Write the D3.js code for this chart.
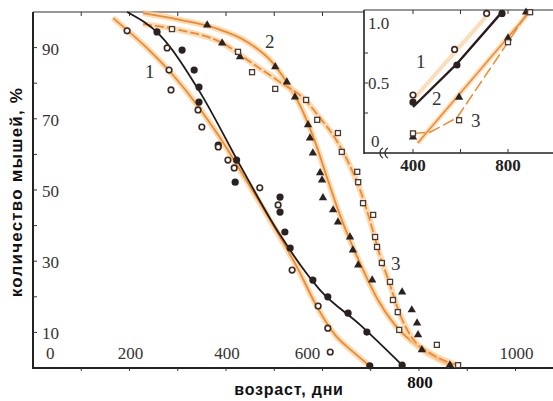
<!DOCTYPE html>
<meta charset="utf-8">
<style>
body { margin: 0; background: #fff; }
svg { display: block; }
.tick-lbl { font-family: "Liberation Serif", "DejaVu Serif", "Times New Roman", serif; font-size: 17px; fill: #333; }
.ax-title { font-family: "Liberation Sans", "DejaVu Sans", sans-serif; font-weight: bold; font-size: 16px; fill: #111; }
.num { font-family: "Liberation Serif", "DejaVu Serif", serif; font-size: 19px; fill: #333; }
</style>
<body>
<script src="https://cdn.jsdelivr.net/npm/d3@7"></script>
<script>

// main plot, survival curves (days, % of mice alive)
var curve1Days = [166, 236, 290, 340, 388, 439, 491, 547, 589, 626, 661, 698];
var curve1Pct  = [98.3, 89.9, 82.3, 73.9, 64.6, 53.4, 41.6, 28.4, 17.1, 9.3, 4.8, 0.6];
var blackDays = [195, 263, 346, 429, 512, 595, 678, 765];
var blackPct  = [100, 93.5, 77.5, 57.0, 37.4, 21.9, 12.1, 0.8];
var curve2Days = [228, 305, 377, 444, 495, 533, 560, 587, 611, 636, 661, 686, 715, 750, 802, 864];
var curve2Pct  = [99.7, 97.8, 95.5, 91.6, 86.0, 78.7, 71.9, 62.6, 52.8, 43.0, 34.6, 27.0, 19.1, 12.1, 5.6, 0.8];
var curve3Days = [228, 305, 392, 450, 512, 564, 595, 626, 653, 678, 698, 719, 740, 761, 786, 823, 879];
var curve3Pct  = [96.6, 94.9, 91.3, 86.0, 80.3, 75.3, 70.2, 64.6, 57.9, 50.0, 41.6, 31.7, 23.3, 14.9, 8.4, 4.2, 0.8];

// points
var filledDays = [257, 309, 334, 344, 344, 384, 422, 419, 512, 512, 522, 533, 580, 611, 653, 692, 765, 698];
var filledPct  = [94.4, 89.3, 83.7, 78.9, 74.7, 62.6, 58.4, 52.2, 48, 43.8, 38.2, 33.7, 24.7, 20, 15.4, 10.1, 0.8, 0.6];
var openDays = [195, 278, 282, 286, 342, 350, 384, 404, 417, 470, 508, 537, 591, 611, 616];
var openPct  = [94.7, 89.9, 83.7, 78.1, 72.5, 67.7, 62.1, 58.4, 56.2, 50.6, 45.8, 27.5, 17.4, 11.2, 4.5];
var triDays = [361, 392, 429, 502, 526, 543, 570, 574, 580, 595, 599, 601, 622, 632, 657, 663, 674, 703, 765, 785, 796, 798, 806, 864];
var triPct  = [96.3, 91.3, 87.4, 84.6, 80.3, 76.1, 68.3, 64.6, 60.4, 54.8, 52.8, 47.8, 44.4, 41, 36.8, 33.1, 28.9, 24.7, 21.3, 16.3, 12.6, 9.3, 5.1, 0.8];
var sqDays = [288, 425, 454, 502, 566, 589, 632, 640, 672, 674, 684, 705, 709, 713, 723, 740, 746, 756, 759, 837, 881];
var sqPct  = [95.2, 88.8, 83.1, 78.4, 75.3, 69.7, 66, 60.7, 55.1, 52.2, 46.3, 43, 36.8, 34, 29.5, 24.2, 19.1, 15.7, 10.7, 6.5, 0.8];

var xTicks = [200, 400, 600, 800, 1000];
var yTicks = [90, 70, 50, 30, 10, 0];

// inset
var inFilledX = [400, 585, 775], inFilledY = [0.34, 0.65, 1.08];
var inOpenX = [400, 575, 710], inOpenY = [0.40, 0.78, 1.08];
var inTriX = [400, 594, 800, 876], inTriY = [0.05, 0.38, 0.875, 1.09];
var inSqX = [400, 594, 800, 893], inSqY = [0.08, 0.19, 0.84, 1.09];
var inLine1X = [400, 585, 770], inLine1Y = [0.30, 0.66, 1.08];
var inLine1oX = [400, 720], inLine1oY = [0.36, 1.08];
var inLine2X = [420, 890], inLine2Y = [0.0, 1.09];
var inLine3X = [400, 472, 585, 800, 880], inLine3Y = [0.08, 0.09, 0.21, 0.84, 1.08];
var inXTicks = [400, 800];
var inYTicks = [0, 0.5, 1.0];

var W = 553, H = 401;
var orange = "#ef8a2e", glow = "#f9cf9c", dark = "#2a2220";

var svg = d3.select("body").append("svg").attr("width", W).attr("height", H);

var x = d3.scaleLinear().domain([0, 1000]).range([33, 515.5]);
var y = d3.scaleLinear().domain([0, 100]).range([368, 12]);

function pts(xs, ys) { return xs.map(function(v, i) { return [v, ys[i]]; }); }

var line = d3.line()
    .x(function(d) { return x(d[0]); })
    .y(function(d) { return y(d[1]); })
    .curve(d3.curveMonotoneX);

// frame
svg.append("line").attr("x1", 33).attr("x2", 33).attr("y1", 12).attr("y2", 368)
    .attr("stroke", "#222").attr("stroke-width", 2);
svg.append("line").attr("x1", 32).attr("x2", W).attr("y1", 368).attr("y2", 368)
    .attr("stroke", "#222").attr("stroke-width", 2);
svg.append("line").attr("x1", 33).attr("x2", W).attr("y1", 12).attr("y2", 12)
    .attr("stroke", "#333").attr("stroke-width", 1.2);

// ticks
d3.range(10, 100, 10).forEach(function(v) {
  svg.append("line").attr("x1", 33).attr("x2", 37).attr("y1", y(v)).attr("y2", y(v))
      .attr("stroke", "#333");
});
d3.range(100, 1100, 100).forEach(function(v) {
  svg.append("line").attr("x1", x(v)).attr("x2", x(v)).attr("y1", 368).attr("y2", 371)
      .attr("stroke", "#333");
  svg.append("line").attr("x1", x(v)).attr("x2", x(v)).attr("y1", 12).attr("y2", 16)
      .attr("stroke", "#333");
});

// tick labels (drawn inside the plot as in the original)
svg.selectAll(".ylbl").data(yTicks).enter().append("text")
    .attr("class", "tick-lbl")
    .attr("x", function(d) { return d === 0 ? 46 : 42; })
    .attr("y", function(d) { return d === 0 ? 353 : y(d) + 1; })
    .attr("dy", "0.35em")
    .text(function(d) { return d; });

svg.selectAll(".xlbl").data(xTicks).enter().append("text")
    .attr("class", "tick-lbl")
    .attr("text-anchor", "middle")
    .attr("x", function(d) { return d === 600 ? x(d) - 15 : x(d) + 1; })
    .attr("y", function(d) { return d === 800 ? 382 : 353; })
    .attr("dy", "0.35em")
    .style("font-weight", function(d) { return d === 800 ? "bold" : null; })
    .style("fill", function(d) { return d === 800 ? "#111" : null; })
    .text(function(d) { return d; });

// axis titles
svg.append("text").attr("class", "ax-title")
    .attr("transform", "translate(22,192) rotate(-90)")
    .attr("text-anchor", "middle")
    .style("font-size", "17px")
    .style("letter-spacing", "1.2px")
    .text("количество  мышей,  %");
svg.append("text").attr("class", "ax-title")
    .attr("x", 289).attr("y", 395)
    .attr("text-anchor", "middle")
    .style("letter-spacing", "0.8px")
    .text("возраст,   дни");

// curves
function orangeCurve(data, dash) {
  svg.append("path").datum(data).attr("d", line)
      .attr("fill", "none").attr("stroke", glow).attr("stroke-width", 6).attr("opacity", 0.75);
  svg.append("path").datum(data).attr("d", line)
      .attr("fill", "none").attr("stroke", orange).attr("stroke-width", 1.8)
      .attr("stroke-dasharray", dash);
}
orangeCurve(pts(curve1Days, curve1Pct), null);
orangeCurve(pts(curve2Days, curve2Pct), null);
orangeCurve(pts(curve3Days, curve3Pct), "9,3");
svg.append("path").datum(pts(blackDays, blackPct)).attr("d", line)
    .attr("fill", "none").attr("stroke", "#1e1a1a").attr("stroke-width", 1.8);

// markers
var tri = d3.symbol().type(d3.symbolTriangle).size(30);
function drawPoints(g, xs, ys, sx, sy, kind) {
  var data = pts(xs, ys);
  if (kind === "filled") {
    g.selectAll(null).data(data).enter().append("circle")
        .attr("cx", function(d) { return sx(d[0]); }).attr("cy", function(d) { return sy(d[1]); })
        .attr("r", 3.6).attr("fill", dark);
  } else if (kind === "open") {
    g.selectAll(null).data(data).enter().append("circle")
        .attr("cx", function(d) { return sx(d[0]); }).attr("cy", function(d) { return sy(d[1]); })
        .attr("r", 2.8).attr("fill", "#fff").attr("stroke", "#3a2a22").attr("stroke-width", 1.6);
  } else if (kind === "tri") {
    g.selectAll(null).data(data).enter().append("path")
        .attr("d", tri)
        .attr("transform", function(d) { return "translate(" + sx(d[0]) + "," + sy(d[1]) + ")"; })
        .attr("fill", dark);
  } else {
    g.selectAll(null).data(data).enter().append("rect")
        .attr("x", function(d) { return sx(d[0]) - 2.5; }).attr("y", function(d) { return sy(d[1]) - 2.5; })
        .attr("width", 5).attr("height", 5)
        .attr("fill", "#fff").attr("stroke", "#4a3a30").attr("stroke-width", 1.3);
  }
}
drawPoints(svg, filledDays, filledPct, x, y, "filled");
drawPoints(svg, openDays, openPct, x, y, "open");
drawPoints(svg, triDays, triPct, x, y, "tri");
drawPoints(svg, sqDays, sqPct, x, y, "sq");

// curve numbers
svg.append("text").attr("class", "num").attr("x", 145).attr("y", 78).text("1");
svg.append("text").attr("class", "num").attr("x", 265).attr("y", 48).text("2");
svg.append("text").attr("class", "num").attr("x", 391).attr("y", 270).text("3");

// ---------- inset ----------
var ix = d3.scaleLinear().domain([400, 800]).range([413, 508]);
var iy = d3.scaleLinear().domain([0, 1]).range([143, 23]);
var inset = svg.append("g");
inset.append("rect").attr("x", 364).attr("y", 10).attr("width", W - 364).attr("height", 143)
    .attr("fill", "#fff");
inset.append("line").attr("x1", 364).attr("x2", 364).attr("y1", 10).attr("y2", 154)
    .attr("stroke", "#222").attr("stroke-width", 1.6);
inset.append("line").attr("x1", 364).attr("x2", W).attr("y1", 153).attr("y2", 153)
    .attr("stroke", "#222").attr("stroke-width", 1.6);
inset.append("line").attr("x1", 364).attr("x2", W).attr("y1", 10).attr("y2", 10)
    .attr("stroke", "#333").attr("stroke-width", 1.2);
[0.25, 0.5, 0.75].forEach(function(v) {
  inset.append("line").attr("x1", 364).attr("x2", 368).attr("y1", iy(v)).attr("y2", iy(v))
      .attr("stroke", "#333");
});
[400, 600, 800].forEach(function(v) {
  inset.append("line").attr("x1", ix(v)).attr("x2", ix(v)).attr("y1", 153).attr("y2", 149)
      .attr("stroke", "#333");
  inset.append("line").attr("x1", ix(v)).attr("x2", ix(v)).attr("y1", 10).attr("y2", 14)
      .attr("stroke", "#333");
});
// axis break marks
[381, 386].forEach(function(bx) {
  inset.append("path")
      .attr("d", "M" + (bx + 2) + ",148 C" + (bx - 2) + ",150 " + (bx - 2) + ",156 " + (bx + 2) + ",158")
      .attr("fill", "none").attr("stroke", "#333").attr("stroke-width", 1.2);
});

inset.selectAll(".iy").data(inYTicks).enter().append("text")
    .attr("class", "tick-lbl")
    .attr("x", function(d) { return d === 0 ? 371 : 368; })
    .attr("y", function(d) { return d === 0 ? 141 : iy(d); })
    .attr("dy", "0.35em")
    .text(function(d) { return d === 0 ? "0" : d3.format(".1f")(d); });
inset.selectAll(".ix").data(inXTicks).enter().append("text")
    .attr("class", "tick-lbl").style("font-weight", "bold").style("fill", "#222")
    .attr("text-anchor", "middle")
    .attr("x", function(d) { return ix(d); }).attr("y", 165)
    .attr("dy", "0.35em")
    .text(function(d) { return d; });

var iline = d3.line().x(function(d) { return ix(d[0]); }).y(function(d) { return iy(d[1]); });
inset.append("path").datum(pts(inLine1oX, inLine1oY)).attr("d", iline)
    .attr("fill", "none").attr("stroke", glow).attr("stroke-width", 4).attr("opacity", 0.7);
inset.append("path").datum(pts(inLine2X, inLine2Y)).attr("d", iline)
    .attr("fill", "none").attr("stroke", glow).attr("stroke-width", 5).attr("opacity", 0.7);
inset.append("path").datum(pts(inLine2X, inLine2Y)).attr("d", iline)
    .attr("fill", "none").attr("stroke", orange).attr("stroke-width", 1.5);
inset.append("path").datum(pts(inLine3X, inLine3Y)).attr("d", iline)
    .attr("fill", "none").attr("stroke", orange).attr("stroke-width", 1.5)
    .attr("stroke-dasharray", "12,4");
inset.append("path").datum(pts(inLine1X, inLine1Y)).attr("d", iline)
    .attr("fill", "none").attr("stroke", "#2a1a1a").attr("stroke-width", 2.4);

drawPoints(inset, inFilledX, inFilledY, ix, iy, "filled");
drawPoints(inset, inOpenX, inOpenY, ix, iy, "open");
drawPoints(inset, inTriX, inTriY, ix, iy, "tri");
drawPoints(inset, inSqX, inSqY, ix, iy, "sq");

inset.append("text").attr("class", "num").attr("x", 416).attr("y", 68).text("1");
inset.append("text").attr("class", "num").attr("x", 432).attr("y", 105).text("2");
inset.append("text").attr("class", "num").attr("x", 471).attr("y", 127).text("3");

</script>
